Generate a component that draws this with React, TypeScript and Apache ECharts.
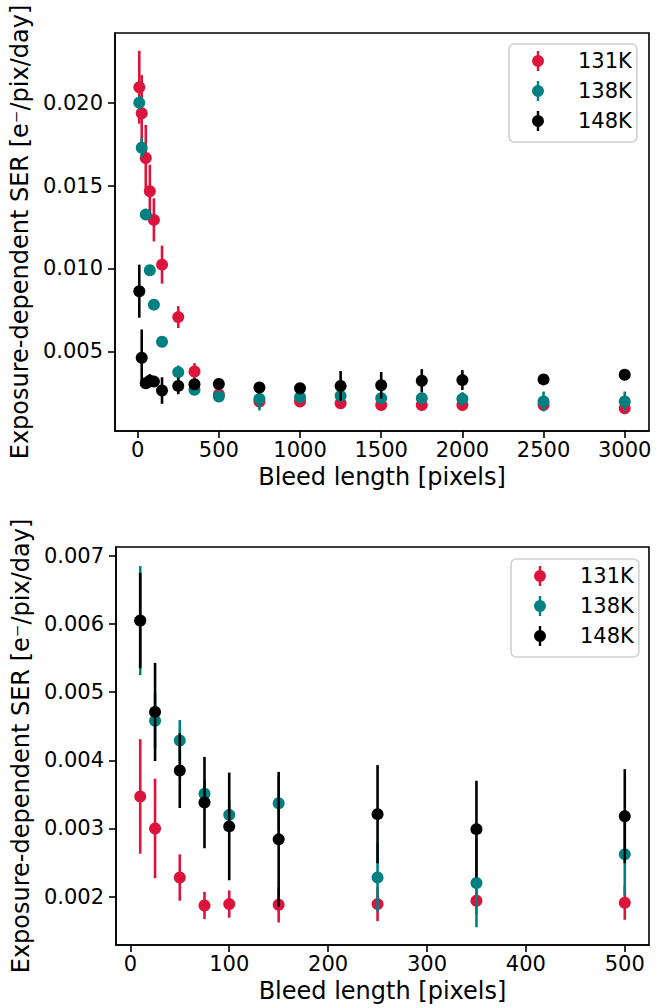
import React, { useEffect, useRef } from "react";
import * as echarts from "echarts";

// ---------- data ----------
const NAMES = ["131K", "138K", "148K"];
const COLORS = ["#DC143C", "#008080", "#000000"];

// top panel (full range)
const X_TOP = [10, 25, 50, 75, 100, 150, 250, 350, 500, 750, 1000, 1250, 1500, 1750, 2000, 2500, 3000];
const TOP_131 = [0.02093, 0.01936, 0.01666, 0.01466, 0.01293, 0.01023, 0.00707, 0.00379, 0.0024, 0.00198, 0.00198, 0.00187, 0.00177, 0.00177, 0.00177, 0.00177, 0.00157];
const TOP_131_ERR = [0.0022, 0.0023, 0.002, 0.0016, 0.0013, 0.00115, 0.00066, 0.0005, 0.0002, 0.0002, 0.00015, 0.00015, 0.00015, 0.00015, 0.00015, 0.00015, 0.00015];
const TOP_138 = [0.02, 0.01728, 0.01325, 0.00989, 0.00782, 0.00558, 0.00375, 0.00268, 0.00228, 0.00214, 0.00224, 0.00232, 0.00218, 0.00218, 0.00214, 0.00198, 0.00198];
const TOP_138_ERR = [0.0004, 0.0006, 0.0002, 0.0002, 0.0002, 0.0002, 0.0004, 0.0002, 0.0002, 0.0007, 0.0002, 0.0003, 0.0003, 0.0003, 0.0004, 0.0006, 0.0006];
const TOP_148 = [0.00863, 0.00462, 0.00308, 0.00323, 0.00318, 0.00264, 0.00292, 0.00302, 0.00304, 0.00282, 0.00278, 0.00292, 0.00296, 0.00323, 0.00327, 0.00331, 0.00359];
const TOP_148_ERR = [0.0016, 0.0017, 0.0003, 0.0004, 0.0003, 0.0008, 0.0005, 0.0003, 0.0002, 0.0002, 0.0002, 0.0009, 0.0008, 0.0007, 0.0006, 0.0003, 0.0001];

// bottom panel (short bleeds)
const X_BOT = [10, 25, 50, 75, 100, 150, 250, 350, 500];
const BOT_131 = [0.00347, 0.003, 0.00228, 0.00187, 0.00189, 0.00188, 0.00189, 0.00194, 0.00191];
const BOT_131_ERR = [0.00084, 0.00073, 0.00034, 0.0002, 0.0002, 0.00026, 0.00025, 0.0002, 0.00025];
const BOT_138 = [0.00605, 0.00458, 0.00429, 0.00351, 0.0032, 0.00337, 0.00228, 0.0022, 0.00262];
const BOT_138_ERR = [0.0008, 0.0004, 0.0003, 0.0002, 0.0002, 0.0004, 0.0005, 0.00065, 0.0006];
const BOT_148 = [0.00605, 0.00471, 0.00385, 0.00338, 0.00303, 0.00284, 0.00321, 0.00299, 0.00318];
const BOT_148_ERR = [0.0007, 0.00072, 0.00055, 0.00067, 0.00079, 0.00099, 0.00072, 0.00071, 0.00069];

// ticks
const TOP_X_TICKS = [0, 500, 1000, 1500, 2000, 2500, 3000];
const TOP_Y_TICKS = [0.005, 0.01, 0.015, 0.02];
const BOT_X_TICKS = [0, 100, 200, 300, 400, 500];
const BOT_Y_TICKS = [0.002, 0.003, 0.004, 0.005, 0.006, 0.007];

const X_NAME = "Bleed length [pixels]";
const Y_NAME = "Exposure-dependent SER [e\u207B/pix/day]";

const FONT = "DejaVu Sans";
const TICK_FS = 21;
const NAME_FS = 24;
const LEGEND_ICON =
  "path://M0,10A6,6,0,1,1,12,10A6,6,0,1,1,0,10Z M4.8,0L7.2,0L7.2,4.2L4.8,4.2Z M4.8,15.8L7.2,15.8L7.2,20L4.8,20Z";

function xAxis(gridIndex: number, min: number, max: number, ticks: number[]) {
  return {
    type: "value",
    gridIndex,
    min,
    max,
    name: X_NAME,
    nameLocation: "middle",
    nameGap: 34,
    nameTextStyle: { fontFamily: FONT, fontSize: NAME_FS, color: "#000" },
    axisLine: { show: true, onZero: false, lineStyle: { color: "#000", width: 1.6 } },
    axisTick: { show: true, customValues: ticks, length: 7, inside: false, lineStyle: { color: "#000", width: 1.6 } },
    axisLabel: { show: true, customValues: ticks, margin: 8, fontFamily: FONT, fontSize: TICK_FS, color: "#000", formatter: (v: number) => String(Math.round(v)) },
    splitLine: { show: false },
  };
}

function yAxis(gridIndex: number, min: number, max: number, ticks: number[]) {
  return {
    type: "value",
    gridIndex,
    min,
    max,
    name: Y_NAME,
    nameLocation: "middle",
    nameGap: 77,
    nameTextStyle: { fontFamily: FONT, fontSize: NAME_FS, color: "#000" },
    axisLine: { show: true, onZero: false, lineStyle: { color: "#000", width: 1.6 } },
    axisTick: { show: true, customValues: ticks, length: 7, inside: false, lineStyle: { color: "#000", width: 1.6 } },
    axisLabel: { show: true, customValues: ticks, margin: 12, fontFamily: FONT, fontSize: TICK_FS, color: "#000", formatter: (v: number) => v.toFixed(3) },
    splitLine: { show: false },
  };
}

function makeSeries(idx: number, xs: number[], ys: number[], errs: number[], k: number) {
  const color = COLORS[k];
  const zBase = 2 + k * 2;
  return [
    {
      type: "custom",
      name: NAMES[k] + " err" + idx,
      xAxisIndex: idx,
      yAxisIndex: idx,
      z: zBase,
      silent: true,
      data: xs.map((x, i) => [x, ys[i], errs[i]]),
      encode: { x: 0, y: 1 },
      renderItem: (_params: any, api: any) => {
        const x = api.value(0);
        const y = api.value(1);
        const e = api.value(2);
        const p1 = api.coord([x, y - e]);
        const p2 = api.coord([x, y + e]);
        return {
          type: "line",
          shape: { x1: p1[0], y1: p1[1], x2: p2[0], y2: p2[1] },
          style: { stroke: color, lineWidth: 2.6 },
        };
      },
    },
    {
      type: "scatter",
      name: NAMES[k],
      xAxisIndex: idx,
      yAxisIndex: idx,
      z: zBase + 1,
      symbol: "circle",
      symbolSize: 12,
      itemStyle: { color, opacity: 1 },
      data: xs.map((x, i) => [x, ys[i]]),
    },
  ];
}

function legend(left: number, top: number) {
  return {
    orient: "vertical",
    left,
    top,
    data: NAMES,
    icon: LEGEND_ICON,
    itemWidth: 40,
    itemHeight: 20,
    itemGap: 9,
    selectedMode: false,
    padding: [6.5, 5, 10.5, 23],
    backgroundColor: "rgba(255,255,255,0.8)",
    borderColor: "#d0d0d0",
    borderWidth: 1.6,
    borderRadius: 5,
    textStyle: { fontFamily: FONT, fontSize: TICK_FS, color: "#000", lineHeight: 21, padding: [0, 0, 0, 15] },
  };
}

export default function App() {
  const ref = useRef<HTMLDivElement>(null);
  useEffect(() => {
    document.body.style.margin = "0";
    const chart = echarts.init(ref.current as HTMLDivElement, null, { renderer: "svg" });
    const option = {
      animation: false,
      backgroundColor: "#fff",
      grid: [
        { left: 115, top: 33, width: 534, height: 398, show: true, borderColor: "#000", borderWidth: 1.6, containLabel: false },
        { left: 116, top: 547, width: 533, height: 398, show: true, borderColor: "#000", borderWidth: 1.6, containLabel: false },
      ],
      xAxis: [xAxis(0, -139.5, 3149.5, TOP_X_TICKS), xAxis(1, -14.5, 524.5, BOT_X_TICKS)],
      yAxis: [yAxis(0, 0.0002, 0.0242, TOP_Y_TICKS), yAxis(1, 0.00129, 0.00713, BOT_Y_TICKS)],
      legend: [legend(509, 44), legend(511, 559)],
      series: [
        ...makeSeries(0, X_TOP, TOP_131, TOP_131_ERR, 0),
        ...makeSeries(0, X_TOP, TOP_138, TOP_138_ERR, 1),
        ...makeSeries(0, X_TOP, TOP_148, TOP_148_ERR, 2),
        ...makeSeries(1, X_BOT, BOT_131, BOT_131_ERR, 0),
        ...makeSeries(1, X_BOT, BOT_138, BOT_138_ERR, 1),
        ...makeSeries(1, X_BOT, BOT_148, BOT_148_ERR, 2),
      ],
    };
    chart.setOption(option as any);
    return () => chart.dispose();
  }, []);
  return <div ref={ref} style={{ width: 664, height: 1008 }} />;
}
